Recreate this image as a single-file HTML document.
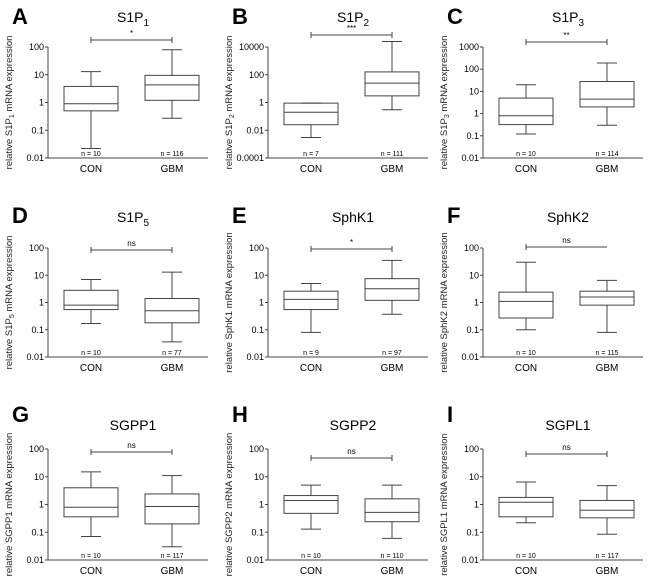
<!DOCTYPE html>
<html><head><meta charset="utf-8"><style>
body{margin:0;background:#fff}
svg{display:block;font-family:"Liberation Sans",sans-serif}
</style></head><body>
<svg id="c" width="650" height="576" viewBox="0 0 650 576"></svg>
<script>
const panelLetters=["A","B","C","D","E","F","G","H","I"];
const panelTitles=["S1P|1","S1P|2","S1P|3","S1P|5","SphK1","SphK2","SGPP1","SGPP2","SGPL1"];
const yTickExps=[[-2,2],[-4,4],[-2,3],[-2,2],[-2,2],[-2,2],[-2,2],[-2,2],[-2,2]];
const tickLabels={"-4":"0.0001","-2":"0.01","-1":"0.1","0":"1","1":"10","2":"100","3":"1000","4":"10000"};
const sigLabels=["*","***","**","ns","*","ns","ns","ns","ns"];
const nCon=[10,7,10,10,9,10,10,10,10];
const nGbm=[116,111,114,77,97,115,117,110,117];
// [min,q1,median,q3,max]
const conStats=[[0.022,0.5,0.9,3.8,13],[0.003,0.025,0.2,0.9,0.9],[0.12,0.32,0.8,5,20],[0.17,0.55,0.8,2.8,7],[0.08,0.55,1.3,2.6,5],[0.1,0.27,1.1,2.4,30],[0.07,0.36,0.8,4,15],[0.13,0.48,1.4,2.1,5],[0.22,0.36,1.2,1.8,6.5]];
const gbmStats=[[0.27,1.2,4.3,9.5,80],[0.3,3,25,160,25000],[0.3,2,4.5,28,190],[0.036,0.18,0.5,1.4,13],[0.37,1.2,3.2,7.5,35],[0.08,0.8,1.6,2.6,6.5],[0.03,0.2,0.85,2.4,11],[0.06,0.24,0.52,1.6,5],[0.085,0.33,0.62,1.4,4.8]];
const sigY=[40,35,42,250,249,247,452,458,454];

const ax0=[48,268,483,48,268,483,48,268,483];
const rowTop=[47,248,449], rowBot=[158,357,560], titleY=[22,222,430], letterY=[24,223,422];
const svg=document.getElementById('c');
const NS="http://www.w3.org/2000/svg";
function mk(tag,attrs,parent){const e=document.createElementNS(NS,tag);for(const k in attrs)e.setAttribute(k,attrs[k]);(parent||svg).appendChild(e);return e;}
for(let p=0;p<9;p++){
  const r=Math.floor(p/3), X=ax0[p];
  const g=mk('g',{});
  
  
  const [e0,e1]=yTickExps[p];
  const y=v=>rowBot[r]-(Math.log10(v)-e0)/(e1-e0)*(rowBot[r]-rowTop[r]);
  const xc=X+43, xg=X+124, st='#444';
  const L=mk('text',{x:X-36,y:letterY[r],'font-size':22,'font-weight':'bold'},g);L.textContent=panelLetters[p];
  
  const parts=panelTitles[p].split('|');
  const T=mk('text',{x:X+85,y:titleY[r],'font-size':14,'text-anchor':'middle'},g);
  
  T.textContent=parts[0];
  if(parts[1]){const s=mk('tspan',{'font-size':10,dy:4},T);s.textContent=parts[1];}
  const ya=mk('line',{x1:X,y1:rowTop[r],x2:X,y2:rowBot[r],stroke:st},g);
  
  const xa=mk('line',{x1:X,y1:rowBot[r],x2:X+160,y2:rowBot[r],stroke:st},g);
  
  const step=(e1-e0)>5?2:1;
  for(let e=e0;e<=e1;e+=step){
    const yy=y(Math.pow(10,e));
    mk('line',{x1:X-3,y1:yy,x2:X,y2:yy,stroke:st},g);
    const t=mk('text',{x:X-4,y:yy+3,'font-size':9,'text-anchor':'end'},g);t.textContent=tickLabels[e];
    
  }
  const yl=mk('text',{transform:`translate(${X-36},${(rowTop[r]+rowBot[r])/2}) rotate(-90)`,'font-size':9.5,'text-anchor':'middle',fill:'#222'},g);
  
  yl.textContent='relative '+parts[0];
  if(parts[1]){const s=mk('tspan',{'font-size':7,dy:2},yl);s.textContent=parts[1];const s2=mk('tspan',{dy:-2},yl);s2.textContent=' mRNA expression';}
  else{yl.textContent+=' mRNA expression';}
  [[xc,conStats[p],'CON',nCon[p]],[xg,gbmStats[p],'GBM',nGbm[p]]].forEach(([cx,s,lab,n])=>{
    const b=mk('g',{},g);
    
    mk('line',{x1:cx,y1:y(s[0]),x2:cx,y2:y(s[1]),stroke:st},b);
    mk('line',{x1:cx,y1:y(s[3]),x2:cx,y2:y(s[4]),stroke:st},b);
    mk('line',{x1:cx-10,y1:y(s[0]),x2:cx+10,y2:y(s[0]),stroke:st},b);
    mk('line',{x1:cx-10,y1:y(s[4]),x2:cx+10,y2:y(s[4]),stroke:st},b);
    mk('rect',{x:cx-27,y:y(s[3]),width:54,height:y(s[1])-y(s[3]),fill:'none',stroke:st},b);
    mk('line',{x1:cx-27,y1:y(s[2]),x2:cx+27,y2:y(s[2]),stroke:st},b);
    const xl=mk('text',{x:cx,y:rowBot[r]+14,'font-size':10,'text-anchor':'middle'},g);xl.textContent=lab;
    
    const nl=mk('text',{x:cx,y:rowBot[r]-2,'font-size':7,'text-anchor':'middle'},g);nl.textContent='n = '+n;
    
  });
  const br=mk('g',{},g);
  
  mk('line',{x1:xc,y1:sigY[p],x2:xg,y2:sigY[p],stroke:st},br);
  mk('line',{x1:xc,y1:sigY[p]-3,x2:xc,y2:sigY[p]+3,stroke:st},br);
  if(p!==5)mk('line',{x1:xg,y1:sigY[p]-3,x2:xg,y2:sigY[p]+3,stroke:st},br);
  const sl=mk('text',{x:(xc+xg)/2,y:sigY[p]-4,'font-size':8,'text-anchor':'middle'},br);sl.textContent=sigLabels[p];
}
</script>
</body></html>
